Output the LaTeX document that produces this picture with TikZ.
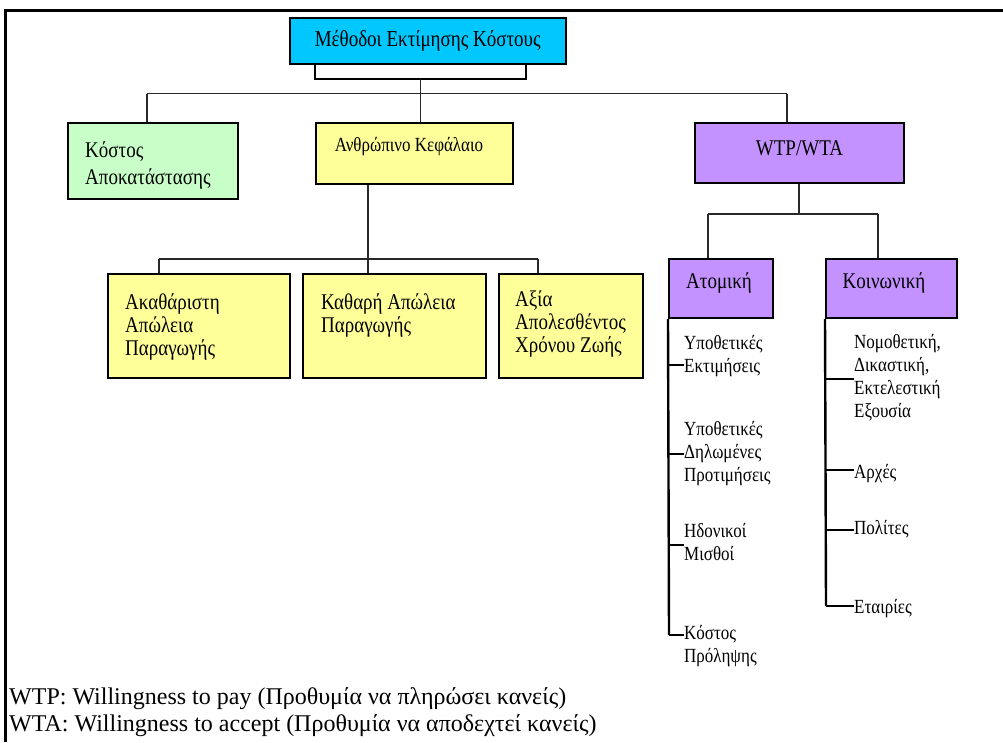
\documentclass[tikz,border=0pt]{standalone}
\usepackage{fontspec}
\setmainfont{Liberation Serif}
\definecolor{cyanbox}{RGB}{0,200,255}
\definecolor{greenbox}{RGB}{200,255,200}
\definecolor{yellowbox}{RGB}{255,255,153}
\definecolor{purplebox}{RGB}{196,146,255}
\definecolor{connclr}{RGB}{40,40,40}
\newcommand{\vsc}[1]{\scalebox{1}[1.18]{#1}}
\newcommand{\vtxt}[1]{\scalebox{1}[1.18]{\begin{tabular}{@{}l@{}}#1\end{tabular}}}
\tikzset{
  box/.style={draw=black, line width=2pt, inner sep=0pt},
  conn/.style={draw=connclr, line width=1.4pt},
  bracketline/.style={draw=black, line width=2pt},
  listline/.style={draw=black, line width=2.4pt},
  tickline/.style={draw=black, line width=1.6pt},
  boxtxt/.style={inner sep=0pt, anchor=west, font=\fontsize{19}{19.5}\selectfont},
  listtxt/.style={inner sep=0pt, anchor=west, font=\fontsize{17}{19.5}\selectfont},
}
\begin{document}
\begin{tikzpicture}[x=1pt,y=-1pt]
\useasboundingbox (0,0) rectangle (1003,742);
% outer frame (top and left only)
\draw[line width=3pt] (5,742) -- (5,10) -- (1003,10);

% top box
\node[box, fill=cyanbox, minimum width=276, minimum height=46,
      font=\fontsize{19}{23}\selectfont] (top) at (427.7,40.5) {\scalebox{1}[1.2]{Μέθοδοι Εκτίμησης Κόστους}};
\coordinate (bl) at (315,78.7);
\coordinate (br) at (526,78.7);
\draw[bracketline] (top.south -| bl) -- (bl) -- (br) -- (top.south -| br);
\coordinate (bm) at (420.5,78.7);
\coordinate (hm) at (420.5,93.5);
\coordinate (hl) at (147,93.5);
\coordinate (hr) at (787,93.5);
\draw[conn] (bm) -- (hm);
\draw[conn] (hl) -- (hr);

% second level
\node[box, fill=greenbox, minimum width=170, minimum height=76] (rest) at (153,161) {};
\node[boxtxt, font=\fontsize{19}{22.9}\selectfont] (resttxt) at (85,165.5) {\vtxt{Κόστος\\Αποκατάστασης}};
\node[box, fill=yellowbox, minimum width=197, minimum height=61] (hc) at (414.5,153.5) {};
\node[inner sep=0pt, font=\fontsize{17}{20}\selectfont] (hctxt) at (409,147) {\vsc{Ανθρώπινο Κεφάλαιο}};
\node[box, fill=purplebox, minimum width=209, minimum height=60] (wtp) at (799.5,153) {};
\node[inner sep=0pt, font=\fontsize{19}{23}\selectfont] (wtptxt) at (799.5,148) {\vsc{WTP/WTA}};

\draw[conn] (hl) -- (hl |- rest.north);
\draw[conn] (hm) -- (hm |- hc.north);
\draw[conn] (hr) -- (hr |- wtp.north);

% human capital children
\node[box, fill=yellowbox, minimum width=182, minimum height=104] (ga) at (199,326) {};
\node[box, fill=yellowbox, minimum width=183, minimum height=104] (gb) at (394.5,326) {};
\node[box, fill=yellowbox, minimum width=144, minimum height=104] (gc) at (571,325.5) {};
\node[boxtxt] (gatxt) at (125,328) {\vtxt{Ακαθάριστη\\Απώλεια\\Παραγωγής}};
\node[boxtxt] (gbtxt) at (321,316.5) {\vtxt{Καθαρή Απώλεια\\Παραγωγής}};
\node[boxtxt] (gctxt) at (515,325) {\vtxt{Αξία\\Απολεσθέντος\\Χρόνου Ζωής}};

\coordinate (h2) at (368,259);
\coordinate (h2l) at (159,259);
\coordinate (h2r) at (538,259);
\draw[conn] (hc.south -| h2) -- (h2);
\draw[conn] (h2l) -- (h2r);
\draw[conn] (h2l) -- (h2l |- ga.north);
\draw[conn] (h2) -- (h2 |- gb.north);
\draw[conn] (h2r) -- (h2r |- gc.north);

% WTP/WTA children
\node[box, fill=purplebox, minimum width=104, minimum height=59] (atom) at (721,288.5) {};
\node[inner sep=0pt, font=\fontsize{19}{23}\selectfont] (atomtxt) at (719,283) {\vsc{Ατομική}};
\node[box, fill=purplebox, minimum width=131, minimum height=59] (soc) at (891.5,288.5) {};
\node[inner sep=0pt, font=\fontsize{19}{23}\selectfont] (soctxt) at (884,283) {\vsc{Κοινωνική}};

\coordinate (w2) at (799,214);
\coordinate (w2l) at (708,214);
\coordinate (w2r) at (878,214);
\draw[conn] (wtp.south -| w2) -- (w2);
\draw[conn] (w2l) -- (w2r);
\draw[conn] (w2l) -- (w2l |- atom.north);
\draw[conn] (w2r) -- (w2r |- soc.north);

% left list
\node[listtxt] (l1) at (684,356.5) {\vtxt{Υποθετικές\\Εκτιμήσεις}};
\node[listtxt] (l2) at (684,453.5) {\vtxt{Υποθετικές\\Δηλωμένες\\Προτιμήσεις}};
\node[listtxt] (l3) at (684,544) {\vtxt{Ηδονικοί\\Μισθοί}};
\node[listtxt] (l4) at (684,646.5) {\vtxt{Κόστος\\Πρόληψης}};
\coordinate (lb) at (669,635);
\draw[listline] (atom.south west) -- (lb);
\draw[tickline] (669,365) -- (l1.west |- 0,365);
\draw[tickline] (669,454) -- (l2.west |- 0,454);
\draw[tickline] (669,545) -- (l3.west |- 0,545);
\draw[tickline] (lb) -- (l4.west |- lb);

% right list
\node[listtxt] (r1) at (854,378.5) {\vtxt{Νομοθετική,\\Δικαστική,\\Εκτελεστική\\Εξουσία}};
\node[listtxt] (r2) at (854,473.5) {\vsc{Αρχές}};
\node[listtxt] (r3) at (854,529.5) {\vsc{Πολίτες}};
\node[listtxt] (r4) at (854,608.5) {\vsc{Εταιρίες}};
\coordinate (rb) at (826,606);
\draw[listline] (soc.south west) -- (rb);
\draw[tickline] (826,379) -- (r1.west |- 0,379);
\draw[tickline] (826,470) -- (r2.west |- 0,470);
\draw[tickline] (826,530) -- (r3.west |- 0,530);
\draw[tickline] (rb) -- (r4.west |- rb);

% legend
\node[inner sep=0pt, align=left, anchor=west, font=\fontsize{24}{27}\selectfont] (legend) at (9,712)
  {WTP: Willingness to pay (Προθυμία να πληρώσει κανείς)\\WTA: Willingness to accept (Προθυμία να αποδεχτεί κανείς)};
\end{tikzpicture}
\end{document}
